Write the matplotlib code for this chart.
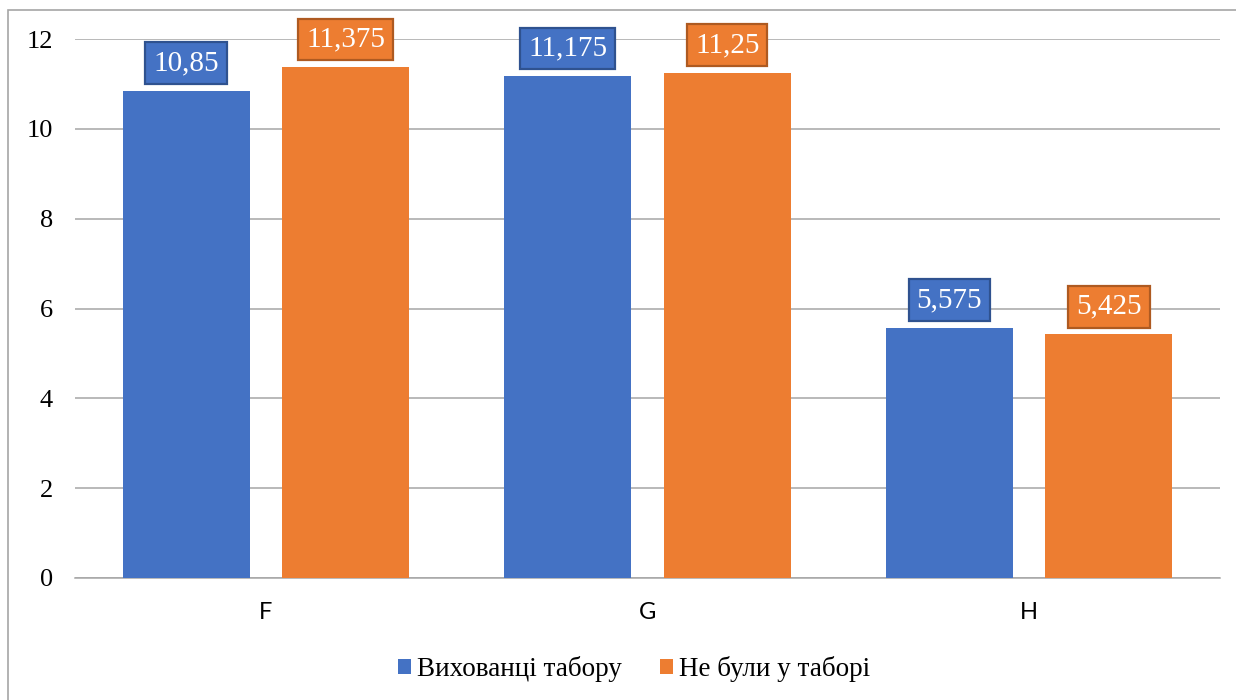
import matplotlib.pyplot as plt
from matplotlib.patches import Rectangle
import numpy as np

categories = ["F", "G", "H"]
series_names = ["Вихованці табору", "Не були у таборі"]
campers = [10.85, 11.175, 5.575]
non_campers = [11.375, 11.25, 5.425]
label_campers = ["10,85", "11,175", "5,575"]
label_non_campers = ["11,375", "11,25", "5,425"]

bar_colors = ["#4472C4", "#ED7D31"]
edge_colors = ["#2F528F", "#AE5A21"]
grid_color = "#A6A6A6"

dpi = 100
fig = plt.figure(figsize=(1236 / dpi, 700 / dpi), dpi=dpi)
ax = fig.add_axes([75 / 1236, 1 - 578 / 700, (1220 - 75) / 1236, (578 - 39) / 700])

# äußerer Rahmen wie im Excel-Diagramm
fig.patches.append(Rectangle((8 / 1236, -0.02), 1.05, 1 - 10 / 700 + 0.02,
                             transform=fig.transFigure, fill=False,
                             edgecolor=grid_color, linewidth=1.2))

x = np.arange(len(categories))
width = 0.3325
offset = 0.209

serif = ["Liberation Serif", "DejaVu Serif"]

for vals, labels, dx, col, ecol, name in [
    (campers, label_campers, -offset, bar_colors[0], edge_colors[0], series_names[0]),
    (non_campers, label_non_campers, offset, bar_colors[1], edge_colors[1], series_names[1]),
]:
    bars = ax.bar(x + dx, vals, width, color=col, label=name, zorder=3)
    for b, lab in zip(bars, labels):
        ax.annotate(lab, (b.get_x() + b.get_width() / 2, b.get_height()),
                    xytext=(0, 10.5), textcoords="offset points",
                    ha="center", va="bottom", color="white",
                    fontsize=21, family=serif, zorder=5,
                    bbox=dict(boxstyle="square,pad=0.27", facecolor=col,
                              edgecolor=ecol, linewidth=1.6))

ax.set_xlim(-0.5, 2.5)
ax.set_ylim(0, 12)
ax.set_yticks(range(0, 13, 2))
ax.set_yticklabels([str(v) for v in range(0, 13, 2)], family=serif, fontsize=19)
ax.set_xticks(x)
ax.set_xticklabels(categories, family=["Lato", "DejaVu Sans"], fontsize=17)
ax.tick_params(axis="y", length=0, pad=16)
ax.tick_params(axis="x", length=0, pad=17)

ax.grid(axis="y", color=grid_color, linewidth=1.1, zorder=0)
for side in ["top", "right", "left"]:
    ax.spines[side].set_visible(False)
ax.spines["bottom"].set_color(grid_color)
ax.spines["bottom"].set_linewidth(1.1)

fig.legend(loc="center", bbox_to_anchor=(634 / 1236, 1 - 669 / 700),
           ncol=2, frameon=False, prop={"family": serif, "size": 19.5},
           handlelength=0.48, handleheight=0.48, handletextpad=0.22,
           columnspacing=1.4, borderaxespad=0)

fig.savefig("out.png", dpi=dpi)
